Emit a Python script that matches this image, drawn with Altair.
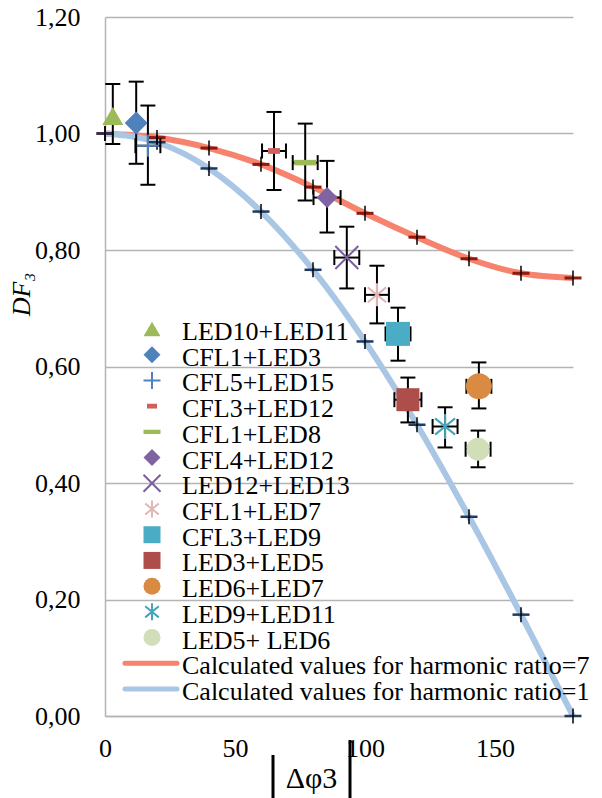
import altair as alt
import pandas as pd

# ---------------- data ----------------
curve_phi = [0, 20, 40, 60, 80, 100, 120, 140, 160, 180]
df_ratio7 = [1.000, 0.993, 0.975, 0.947, 0.908, 0.863, 0.822, 0.785, 0.760, 0.752]
df_ratio1 = [1.000, 0.985, 0.940, 0.866, 0.766, 0.643, 0.500, 0.342, 0.174, 0.000]

pairs = ["LED10+LED11", "CFL1+LED3", "CFL5+LED15", "CFL3+LED12", "CFL1+LED8",
         "CFL4+LED12", "LED12+LED13", "CFL1+LED7", "CFL3+LED9", "LED3+LED5",
         "LED6+LED7", "LED9+LED11", "LED5+ LED6"]
phi = [3.0, 12.0, 16.5, 65.0, 77.0, 85.4, 93.0, 104.6, 112.7, 116.5, 143.8, 130.8, 143.5]
dfv = [1.030, 1.018, 0.979, 0.970, 0.950, 0.890, 0.787, 0.723, 0.656, 0.543, 0.566, 0.497, 0.458]
dfv_lo = [0.982, 0.948, 0.912, 0.903, 0.885, 0.830, 0.734, 0.674, 0.610, 0.504, 0.528, 0.461, 0.427]
dfv_hi = [1.085, 1.089, 1.048, 1.037, 1.017, 0.953, 0.840, 0.773, 0.701, 0.581, 0.607, 0.530, 0.490]
phi_err = [0.0, 0.0, 4.8, 4.6, 4.8, 5.2, 4.8, 4.6, 4.8, 5.2, 4.8, 4.8, 4.8]

calc_labels = ["Calculated values for harmonic ratio=7",
               "Calculated values for harmonic ratio=1"]

# ---------------- styles ----------------
FONT = "'Liberation Serif', 'Times New Roman', Times, serif"
GRID = "#B4B4B4"
RED_LINE = "#F7836E"
BLUE_LINE = "#A9C6E4"

PLUS = "M-1,0L1,0M0,-1L0,1"
XSH = "M-1,-1L1,1M-1,1L1,-1"
AST = "M0,-1L0,1M-0.8,-0.65L0.8,0.65M-0.8,0.65L0.8,-0.65"
DASH_S = "M-1,-0.48L1,-0.48L1,0.48L-1,0.48Z"
DASH_L = "M-1,-0.25L1,-0.25L1,0.25L-1,0.25Z"
HBAR = "M-1,0L1,0"
VBAR = "M0,-1L0,1"

shapes = ["triangle-up", "diamond", PLUS, DASH_S, DASH_L, "diamond", XSH, AST,
          "square", "square", "circle", AST, "circle"]
colors = ["#9BBB59", "#4F81BD", "#4F81BD", "#D0605C", "#9BBB59", "#8064A2", "#7A5F9C",
          "#E2B6B4", "#4BACC6", "#AD4E4B", "#D98B43", "#46A3B8", "#D1DEB8"]
filled = [True, True, False, True, True, True, False, False, True, True, True, False, True]
main_sizes = [441, 529, 484, 144, 484, 441, 529, 529, 576, 529, 676, 625, 529]
leg_sizes = [289, 289, 289, 100, 289, 289, 289, 289, 289, 289, 289, 289, 289]

fills = [c if f else "transparent" for c, f in zip(colors, filled)]
sws = [0 if f else 2 for f in filled]


def xenc(field):
    return alt.X(f"{field}:Q",
                 scale=alt.Scale(domain=[0, 180], nice=False, zero=False),
                 axis=alt.Axis(values=[0, 50, 100, 150], grid=False, ticks=False, tickSize=0,
                               domainColor=GRID, domainWidth=1.5,
                               labelFont=FONT, labelFontSize=26, labelColor="black",
                               labelPadding=32, labelBaseline="middle", labelFlush=False,
                               title="Δφ3", titleFont=FONT, titleFontSize=30,
                               titleFontWeight="normal", titleColor="black",
                               titleX=206, titleY=71, titleAlign="center",
                               titleBaseline="alphabetic", titleAngle=0))


def yenc(field):
    return alt.Y(f"{field}:Q",
                 scale=alt.Scale(domain=[0, 1.2], nice=False),
                 axis=alt.Axis(values=[0, 0.2, 0.4, 0.6, 0.8, 1.0, 1.2], grid=True,
                               gridColor=GRID, gridWidth=1.5, ticks=False, tickSize=0,
                               domainColor=GRID, domainWidth=1.5,
                               labelExpr="replace(format(datum.value, '.2f'), '.', ',')",
                               labelFont=FONT, labelFontSize=26, labelColor="black",
                               labelPadding=25, labelFlush=False,
                               title="DF₃", titleFont=FONT, titleFontSize=26,
                               titleFontStyle="italic", titleFontWeight="normal",
                               titleColor="black", titleX=-84, titleY=277,
                               titleAngle=270, titleAlign="center", titleBaseline="middle"))


# ---------------- tables ----------------
c7 = pd.DataFrame({"x": curve_phi, "y": df_ratio7})
c1 = pd.DataFrame({"x": curve_phi, "y": df_ratio1})

pts = pd.DataFrame({"x": phi, "y": dfv, "shape": shapes, "fill": fills,
                    "stroke": colors, "sw": sws, "size": main_sizes, "name": pairs})

ev = pd.DataFrame({"x": phi, "lo": dfv_lo, "hi": dfv_hi})
ev_caps = pd.DataFrame({"x": phi + phi, "y": dfv_lo + dfv_hi})

eh_rows = [(p - e, p + e, v) for p, v, e in zip(phi, dfv, phi_err) if e > 0]
eh = pd.DataFrame({"xlo": [r[0] for r in eh_rows], "xhi": [r[1] for r in eh_rows],
                   "y": [r[2] for r in eh_rows]})
eh_caps = pd.DataFrame({"x": [r[0] for r in eh_rows] + [r[1] for r in eh_rows],
                        "y": [r[2] for r in eh_rows] * 2})

# ---------------- main layers ----------------
red_line = alt.Chart(c7).mark_line(color=RED_LINE, strokeWidth=6, interpolate="monotone").encode(
    x=xenc("x"), y=yenc("y"))
blue_line = alt.Chart(c1).mark_line(color=BLUE_LINE, strokeWidth=6, interpolate="monotone").encode(
    x=xenc("x"), y=yenc("y"))

red_h = alt.Chart(c7).mark_point(shape=HBAR, size=289, stroke="#8E1A0E", strokeWidth=3,
                                 filled=False, opacity=1).encode(x=xenc("x"), y=yenc("y"))
red_v = alt.Chart(c7).mark_point(shape=VBAR, size=225, stroke="black", strokeWidth=1.5,
                                 filled=False, opacity=1).encode(x=xenc("x"), y=yenc("y"))
blue_h = alt.Chart(c1).mark_point(shape=HBAR, size=289, stroke="#1F3A60", strokeWidth=2.5,
                                  filled=False, opacity=1).encode(x=xenc("x"), y=yenc("y"))
blue_v = alt.Chart(c1).mark_point(shape=VBAR, size=225, stroke="black", strokeWidth=1.5,
                                  filled=False, opacity=1).encode(x=xenc("x"), y=yenc("y"))

vbars = alt.Chart(ev).mark_rule(color="black", strokeWidth=2).encode(
    x=xenc("x"), y=yenc("lo"), y2="hi")
vcaps = alt.Chart(ev_caps).mark_point(shape=HBAR, size=225, stroke="black", strokeWidth=2,
                                      filled=False, opacity=1).encode(x=xenc("x"), y=yenc("y"))
hbars = alt.Chart(eh).mark_rule(color="black", strokeWidth=2).encode(
    x=xenc("xlo"), x2="xhi", y=yenc("y"))
hcaps = alt.Chart(eh_caps).mark_point(shape=VBAR, size=225, stroke="black", strokeWidth=2,
                                      filled=False, opacity=1).encode(x=xenc("x"), y=yenc("y"))

points = alt.Chart(pts).mark_point(filled=True, opacity=1).encode(
    x=xenc("x"), y=yenc("y"),
    shape=alt.Shape("shape:N", scale=None),
    fill=alt.Fill("fill:N", scale=None),
    stroke=alt.Stroke("stroke:N", scale=None),
    strokeWidth=alt.StrokeWidth("sw:Q", scale=None),
    size=alt.Size("size:Q", scale=None),
)

main = alt.layer(red_line, blue_line, red_h, red_v, blue_h, blue_v,
                 vbars, vcaps, hbars, hcaps, points)

# ---------------- legend ----------------
leg_pts = pd.DataFrame({"row": list(range(13)), "shape": shapes, "fill": fills,
                        "stroke": colors, "sw": sws, "size": leg_sizes})
leg_lines = pd.DataFrame({"row": [13, 14], "color": [RED_LINE, BLUE_LINE]})
leg_text = pd.DataFrame({"row": list(range(15)), "label": pairs + calc_labels})

ly = alt.Y("row:Q", scale=alt.Scale(domain=[0, 14], range=[312, 672]), axis=None)

leg_sym = alt.Chart(leg_pts).mark_point(filled=True, opacity=1).encode(
    x=alt.value(47), y=ly,
    shape=alt.Shape("shape:N", scale=None),
    fill=alt.Fill("fill:N", scale=None),
    stroke=alt.Stroke("stroke:N", scale=None),
    strokeWidth=alt.StrokeWidth("sw:Q", scale=None),
    size=alt.Size("size:Q", scale=None),
)
leg_ln = alt.Chart(leg_lines).mark_rule(strokeWidth=5, strokeCap="round").encode(
    x=alt.value(20), x2=alt.value(72), y=ly, color=alt.Color("color:N", scale=None))
leg_tx = alt.Chart(leg_text).mark_text(align="left", baseline="middle", font=FONT,
                                       fontSize=26, dy=3, color="black").encode(
    x=alt.value(77), y=ly, text="label:N")

one = pd.DataFrame({"a": [0]})
bar_l = alt.Chart(one).mark_rule(color="black", strokeWidth=3).encode(
    x=alt.value(168), y=alt.value(738), y2=alt.value(782))
bar_r = alt.Chart(one).mark_rule(color="black", strokeWidth=3).encode(
    x=alt.value(245), y=alt.value(723), y2=alt.value(782))

legend = alt.layer(leg_ln, leg_sym, leg_tx, bar_l, bar_r)

chart = alt.layer(main, legend).resolve_scale(y="independent").properties(
    width=468, height=699,
    padding={"left": 97, "top": 9, "right": 21, "bottom": 82},
    autosize=alt.AutoSizeParams(type="none"),
    background="white",
).configure_view(stroke="transparent")

chart.save("out.html", embed_options={"renderer": "svg", "actions": False})
